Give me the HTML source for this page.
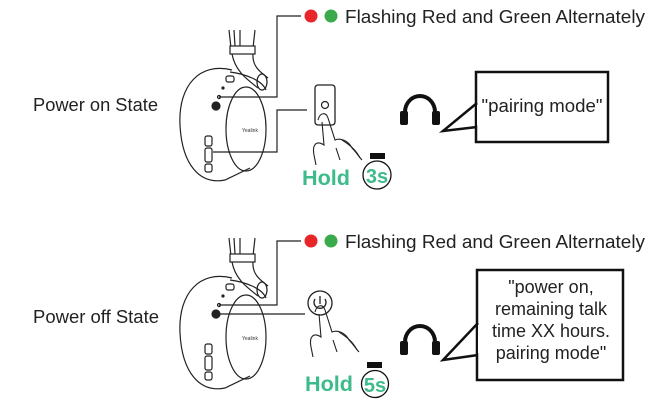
<!DOCTYPE html>
<html><head><style>body{margin:0;background:#fff}svg{display:block}text{font-family:"Liberation Sans",Arial,sans-serif}</style></head>
<body>
<svg width="658" height="415" viewBox="0 0 658 415" xmlns="http://www.w3.org/2000/svg">
<defs>
<g id="hs" fill="none" stroke="#222" stroke-width="1.2">
  <path d="M229,30 L231,48 L253,48 L255,30"/>
  <path d="M234,30 L235,46 M240,30 L240,46"/>
  <rect x="230" y="46" width="25" height="8" fill="#fff"/>
  <path d="M232,54 C235,70 245,78 258,88 M253,54 C252,66 260,72 268,78"/>
  <ellipse cx="262" cy="82" rx="5" ry="8"/>
  <path d="M232,70 C200,62 178,85 180,125 C182,165 200,185 225,180 L250,168"/>
  <ellipse cx="246" cy="129" rx="20" ry="42"/>
  <path d="M230,72 C245,74 262,80 266,90"/>
  <rect x="226" y="76" width="8" height="6" rx="2"/>
  <circle cx="223" cy="88" r="1" fill="#222"/>
  <circle cx="219" cy="97" r="1.5"/>
  <circle cx="216" cy="106" r="4" fill="#222"/>
  <rect x="205" y="136" width="7" height="10" rx="2"/>
  <rect x="205" y="148" width="7" height="14" rx="2"/>
  <rect x="205" y="164" width="7" height="8" rx="2"/>
  <text x="242" y="132" font-size="5" fill="#333" stroke="none">Yealink</text>
</g>
<g id="hp">
  <path d="M405,112 A15,16 0 0 1 435,112" fill="none" stroke="#111" stroke-width="4"/>
  <rect x="400" y="111" width="8" height="14" rx="2" fill="#111"/>
  <rect x="432" y="111" width="8" height="14" rx="2" fill="#111"/>
</g>
<g id="hand" fill="none" stroke="#222" stroke-width="1.1">
  <path d="M318,120 C320,112 326,112 328,118 L335,140 C340,138 348,140 352,148 C356,152 360,158 362,160"/>
  <path d="M322,122 L324,145 C316,140 312,145 314,155 L316,165"/>
  <path d="M342,140 C350,145 356,150 360,158 M336,148 L340,160"/>
</g>
</defs>

<!-- top -->
<use href="#hs"/>
<text x="33" y="111" font-size="18" fill="#222" textLength="125" lengthAdjust="spacingAndGlyphs">Power on State</text>
<path d="M219,97 H277 V16 H301 M213,152 H277 V110 H307" fill="none" stroke="#222" stroke-width="1.2"/>
<circle cx="311" cy="16" r="6.5" fill="#e8262a"/>
<circle cx="331" cy="16" r="6.5" fill="#3aaa4a"/>
<text x="345" y="23" font-size="18" fill="#222" textLength="300" lengthAdjust="spacingAndGlyphs">Flashing Red and Green Alternately</text>
<rect x="315" y="85" width="20" height="40" rx="3" fill="#fff" stroke="#222" stroke-width="1.3"/>
<circle cx="325" cy="105" r="3.5" fill="none" stroke="#222" stroke-width="1.2"/>
<use href="#hand"/>
<text x="302" y="185" font-size="21" font-weight="bold" fill="#3dbb8a" textLength="48" lengthAdjust="spacingAndGlyphs">Hold</text>
<rect x="370" y="153" width="15" height="6" fill="#111"/>
<circle cx="377" cy="175" r="14" fill="#fff" stroke="#111" stroke-width="1.3"/>
<text x="377" y="183" font-size="20" font-weight="bold" fill="#3dbb8a" text-anchor="middle">3s</text>
<use href="#hp"/>
<path d="M477,103 L443,131 L477,127" fill="#fff" stroke="#111" stroke-width="2.5"/>
<rect x="476" y="72" width="132" height="70" fill="none" stroke="#111" stroke-width="2.5"/>
<rect x="477" y="105" width="4" height="20" fill="#fff"/>
<text x="542" y="112" font-size="18" fill="#222" text-anchor="middle" textLength="121" lengthAdjust="spacingAndGlyphs">"pairing mode"</text>

<!-- bottom -->
<use href="#hs" transform="translate(0,208)"/>
<text x="33" y="323" font-size="18" fill="#222" textLength="126" lengthAdjust="spacingAndGlyphs">Power off State</text>
<path d="M219,305 H277 V241 H301 M216,314 H305" fill="none" stroke="#222" stroke-width="1.2"/>
<circle cx="311" cy="241" r="6.5" fill="#e8262a"/>
<circle cx="331" cy="241" r="6.5" fill="#3aaa4a"/>
<text x="345" y="248" font-size="18" fill="#222" textLength="300" lengthAdjust="spacingAndGlyphs">Flashing Red and Green Alternately</text>
<circle cx="320" cy="303" r="12" fill="#fff" stroke="#222" stroke-width="1.3"/>
<path d="M315,299 A6,6 0 1 0 325,299 M320,296 V304" fill="none" stroke="#222" stroke-width="1.3"/>
<use href="#hand" transform="translate(-3,192)"/>
<text x="305" y="391" font-size="21" font-weight="bold" fill="#3dbb8a" textLength="48" lengthAdjust="spacingAndGlyphs">Hold</text>
<rect x="367" y="362" width="15" height="6" fill="#111"/>
<circle cx="375" cy="384" r="13.5" fill="#fff" stroke="#111" stroke-width="1.3"/>
<text x="375" y="392" font-size="20" font-weight="bold" fill="#3dbb8a" text-anchor="middle">5s</text>
<use href="#hp" transform="translate(0,230)"/>
<path d="M478,323 L443,360 L478,355" fill="#fff" stroke="#111" stroke-width="2.5"/>
<rect x="477" y="270" width="146" height="110" fill="none" stroke="#111" stroke-width="2.5"/>
<rect x="478" y="325" width="4" height="28" fill="#fff"/>
<g font-size="18" fill="#222" text-anchor="middle">
<text x="551" y="293">"power on,</text>
<text x="551" y="315">remaining talk</text>
<text x="551" y="337">time XX hours.</text>
<text x="551" y="359">pairing mode"</text>
</g>
</svg>
</body></html>
